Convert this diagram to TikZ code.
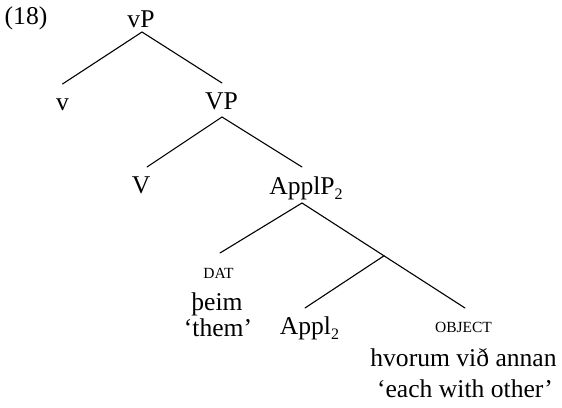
\documentclass[tikz,border=0pt]{standalone}
\usepackage{fontspec}
\setmainfont{Liberation Serif}
\newcommand\mysub[1]{\raisebox{-5pt}{\fontsize{16}{16}\selectfont #1}}
\newcommand\mysc[1]{{\fontsize{15.5}{16}\selectfont #1}}
\begin{document}
\begin{tikzpicture}[x=1pt,y=-1pt,
  lab/.style={inner sep=0pt, anchor=base, font=\fontsize{25.6}{27}\selectfont},
  edge/.style={line width=1.1pt, line cap=round}]
\useasboundingbox (0,0) rectangle (562,407);
\node[lab] (ex) at (26,24) {(18)};
\node[lab] (vP) at (141,27) {vP};
\node[lab] (v) at (62.5,110) {v};
\node[lab] (VP) at (221.5,109.5) {VP};
\node[lab] (V) at (141,193) {V};
\node[lab] (ApplP) at (306,194) {ApplP\mysub{2}};
\node[lab] (dat) at (218.5,278) {\mysc{DAT}};
\node[lab] (theim) at (217,310) {þeim};
\node[lab] (them) at (218,336) {‘them’};
\node[lab] (Appl) at (309.5,334) {Appl\mysub{2}};
\node[lab] (obj) at (463.5,332) {\mysc{OBJECT}};
\node[lab] (hvorum) at (463.5,366) {hvorum við annan};
\node[lab] (each) at (465,397) {‘each with other’};
\draw[edge] ([shift={(1pt,-5pt)}]vP.base) -- ([yshift=26pt]v.base);
\draw[edge] ([shift={(1pt,-5pt)}]vP.base) -- ([shift={(0.5pt,26.5pt)}]VP.base);
\draw[edge] ([shift={(0.5pt,-7.5pt)}]VP.base) -- ([shift={(6pt,26pt)}]V.base);
\draw[edge] ([shift={(0.5pt,-7.5pt)}]VP.base) -- ([shift={(-4pt,27pt)}]ApplP.base);
\draw[edge] ([shift={(-4pt,-9pt)}]ApplP.base) -- ([shift={(1.5pt,25pt)}]dat.base);
\draw[edge] ([shift={(-4pt,-9pt)}]ApplP.base) -- coordinate[pos=0.503] (mid) ([shift={(1.5pt,24pt)}]obj.base);
\draw[edge] (mid) -- ([shift={(-4.5pt,26pt)}]Appl.base);
\end{tikzpicture}
\end{document}
